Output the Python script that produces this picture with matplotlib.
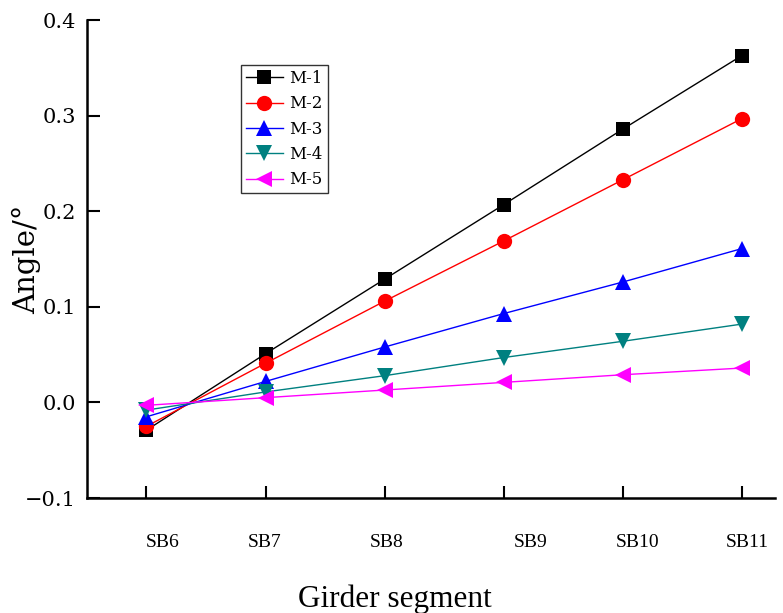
import matplotlib
matplotlib.use("Agg")
import matplotlib.pyplot as plt
import matplotlib.transforms as mtransforms

segments = ["SB6", "SB7", "SB8", "SB9", "SB10", "SB11"]
m1 = [-0.029, 0.051, 0.129, 0.207, 0.286, 0.363]
m2 = [-0.025, 0.041, 0.106, 0.169, 0.233, 0.297]
m3 = [-0.015, 0.022, 0.058, 0.093, 0.126, 0.161]
m4 = [-0.008, 0.011, 0.028, 0.047, 0.064, 0.082]
m5 = [-0.003, 0.005, 0.013, 0.021, 0.029, 0.036]
series_names = ["M-1", "M-2", "M-3", "M-4", "M-5"]
yticks = [-0.1, 0.0, 0.1, 0.2, 0.3, 0.4]

fig = plt.figure(figsize=(7.83, 6.13), dpi=100)
ax = fig.add_axes([0.111, 0.1876, 0.879, 0.7794])

x = list(range(len(segments)))
styles = [
    dict(color="black", marker="s", ms=10),
    dict(color="red", marker="o", ms=11),
    dict(color="blue", marker="^", ms=12),
    dict(color="#008080", marker="v", ms=12),
    dict(color="magenta", marker="<", ms=12),
]
for vals, name, st in zip([m1, m2, m3, m4, m5], series_names, styles):
    ax.plot(x, vals, color=st["color"], marker=st["marker"], markersize=st["ms"],
            lw=1.0, label=name, markeredgewidth=0)

ax.set_xlim(-0.5, 5.28)
ax.set_ylim(-0.1, 0.4)
ax.set_xticks(x)
ax.set_xticklabels(segments, fontfamily="Liberation Serif", fontsize=14)
ax.set_yticks(yticks)
ax.set_yticklabels(["\u22120.1", "0.0", "0.1", "0.2", "0.3", "0.4"],
                   fontfamily="DejaVu Serif", fontsize=15)
ax.tick_params(axis="both", direction="in", length=9, width=1.5)
ax.tick_params(axis="x", pad=26)
ax.tick_params(axis="y", pad=8)
ax.spines["top"].set_visible(False)
ax.spines["right"].set_visible(False)
ax.spines["left"].set_linewidth(1.8)
ax.spines["bottom"].set_linewidth(1.8)

# shift individual x tick labels as in reference
offsets_px = [16, -1, 2, 27, 15, 5]
for lbl, dx in zip(ax.get_xticklabels(), offsets_px):
    lbl.set_transform(lbl.get_transform() + mtransforms.ScaledTranslation(dx / 100, 0, fig.dpi_scale_trans))

ax.set_xlabel("Girder segment", fontfamily="Liberation Serif", fontsize=22.5)
ax.set_ylabel("Angle/°", fontfamily="DejaVu Serif", fontsize=21)
ax.xaxis.set_label_coords(0.448, -0.18)
ax.yaxis.set_label_coords(-0.067, 0.5)

leg = ax.legend(loc="upper left", bbox_to_anchor=(0.224, 0.906), frameon=True, fancybox=False,
                edgecolor="black", handlelength=2.2, borderpad=0.3,
                labelspacing=0.5, handletextpad=0.4, borderaxespad=0,
                prop={"family": "DejaVu Serif", "size": 12})
leg.get_frame().set_linewidth(1.0)

fig.savefig("out.png", dpi=100)
